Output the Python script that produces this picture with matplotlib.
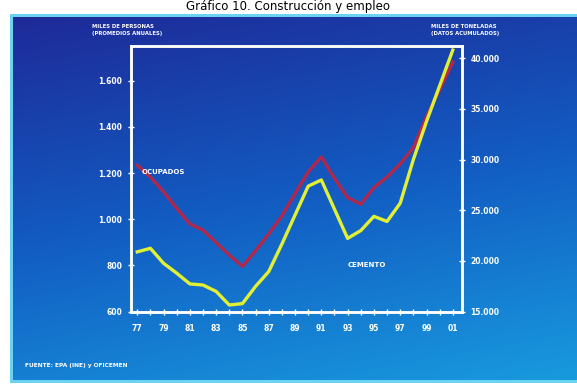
import numpy as np
import matplotlib
matplotlib.use("Agg")
import matplotlib.pyplot as plt
from matplotlib.patches import Rectangle
from matplotlib.ticker import FuncFormatter

# annual series, 1977-2001
years = list(range(1977, 2002))
ocupados = [1234, 1183, 1119, 1047, 980, 953, 899, 845, 796, 864, 937, 1015, 1111,
            1205, 1270, 1177, 1094, 1065, 1137, 1183, 1240, 1310, 1445, 1560, 1680]
cemento = [20900, 21250, 19770, 18800, 17740, 17630, 17000, 15660, 15800, 17500, 18960,
           21670, 24530, 27380, 27990, 25110, 22230, 23000, 24400, 23900, 25700, 30000,
           33760, 37280, 40800]

left_ticks = [600, 800, 1000, 1200, 1400, 1600]
right_ticks = [15000, 20000, 25000, 30000, 35000, 40000]
year_labels = list(range(1977, 2002, 2))

W, H = 577, 388
fig = plt.figure(figsize=(W / 100, H / 100), dpi=100)
fig.patch.set_facecolor("white")

def fx(px):
    return px / W

def fy(py):
    return 1 - py / H

# title above the panel
fig.text(0.5, fy(6.5), "Gráfico 10. Construcción y empleo", ha="center", va="center",
         fontsize=8.5, color="black")

# blue gradient panel with light border
px0, py0, px1, py1 = 10, 14, 577, 383
fig.patches.append(Rectangle((fx(px0), fy(py1)), fx(px1 - px0), (py1 - py0) / H,
                             transform=fig.transFigure, facecolor="#6cd2f2",
                             edgecolor="none", zorder=0))
bg = fig.add_axes([fx(px0 + 3), fy(py1 - 3), fx(px1 - px0 - 3), (py1 - py0 - 6) / H], zorder=0.5)
gy, gx = np.mgrid[0:1:200j, 0:1:300j]
t = 0.78 * gy + 0.22 * gx
top = np.array([0x1e, 0x2a, 0x98]) / 255
mid = np.array([0x12, 0x5c, 0xc2]) / 255
bot = np.array([0x18, 0x9a, 0xde]) / 255
img = np.where(t[..., None] < 0.5,
               top + (mid - top) * (t[..., None] / 0.5),
               mid + (bot - mid) * ((t[..., None] - 0.5) / 0.5))
bg.imshow(img, aspect="auto", extent=[0, 1, 0, 1], origin="upper")
bg.set_axis_off()

# main plot
ax1 = fig.add_axes([fx(130.7), fy(311.7), fx(462 - 130.7), (311.7 - 46) / H], zorder=2)
ax1.set_facecolor("none")
ax2 = ax1.twinx()

ax1.plot(years, ocupados, color="#b0284c", lw=2.4, solid_joinstyle="round", zorder=3)
ax2.plot(years, cemento, color="#e2f034", lw=2.4, solid_joinstyle="round", zorder=4)

ax1.set_xlim(1976.5, 2001.7)
ax1.set_ylim(600, 1750)
ax2.set_ylim(15000, 41200)

dots = FuncFormatter(lambda v, pos: f"{int(v):,}".replace(",", "."))

ax1.set_yticks(left_ticks)
ax1.yaxis.set_major_formatter(dots)
ax2.set_yticks(right_ticks)
ax2.yaxis.set_major_formatter(dots)

ax1.set_xticks(year_labels)
ax1.set_xticklabels([f"{y % 100:02d}" for y in year_labels])
ax1.set_xticks(years, minor=True)

for ax in (ax1, ax2):
    for s in ax.spines.values():
        s.set_color("white")
        s.set_linewidth(1.8)
    ax.tick_params(colors="white", labelsize=5.5, width=1, length=4, direction="inout")
    for lab in ax.get_yticklabels() + ax.get_xticklabels():
        lab.set_fontweight("bold")
ax1.tick_params(axis="x", which="both", length=4, width=1, direction="inout", pad=7)
ax1.tick_params(axis="x", which="minor", color="white")
ax1.tick_params(axis="y", pad=4)
ax2.tick_params(axis="y", pad=4)

# series labels
ax1.text(1977.3, 1195, "OCUPADOS", color="white", fontsize=5, fontweight="bold")
ax2.text(1993.0, 19400, "CEMENTO", color="white", fontsize=5, fontweight="bold")

# axis headers and source note
hdr = dict(color="white", fontsize=3.8, fontweight="bold", ha="left", va="center")
fig.text(fx(92), fy(27), "MILES DE PERSONAS", **hdr)
fig.text(fx(92), fy(33), "(PROMEDIOS ANUALES)", **hdr)
fig.text(fx(431), fy(27), "MILES DE TONELADAS", **hdr)
fig.text(fx(431), fy(33), "(DATOS ACUMULADOS)", **hdr)
fig.text(fx(25), fy(366), "FUENTE: EPA (INE) y OFICEMEN", color="white", fontsize=4.2,
         fontweight="bold", ha="left", va="center")

fig.savefig("out.png", dpi=100)
